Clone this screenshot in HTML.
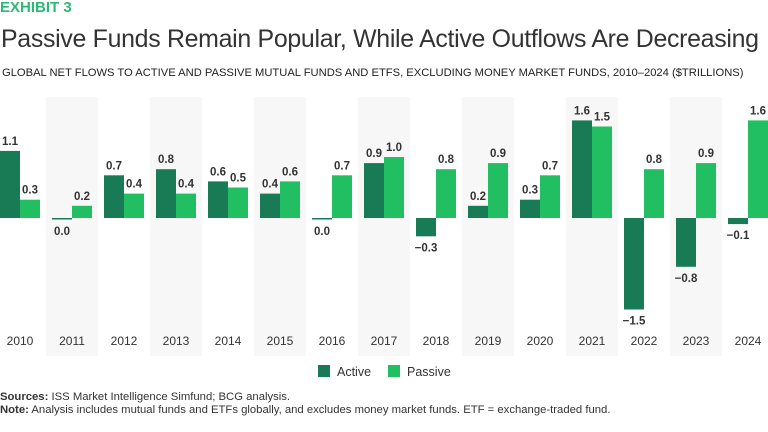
<!DOCTYPE html>
<html><head><meta charset="utf-8"><style>
body{margin:0;width:768px;height:432px;background:#fff;font-family:"Liberation Sans",sans-serif;overflow:hidden;position:relative}
.t{position:absolute;white-space:nowrap}
</style></head><body>
<div class="t" style="left:0;top:-1px;font-size:15px;font-weight:bold;color:#29ba74">EXHIBIT 3</div>
<div class="t" style="left:1px;top:25px;font-size:24.9px;color:#333;letter-spacing:-0.3px">Passive Funds Remain Popular, While Active Outflows Are Decreasing</div>
<div class="t" style="left:2px;top:67px;font-size:11.2px;color:#222">GLOBAL NET FLOWS TO ACTIVE AND PASSIVE MUTUAL FUNDS AND ETFS, EXCLUDING MONEY MARKET FUNDS, 2010–2024 ($TRILLIONS)</div>
<svg id="chart" width="768" height="432" style="position:absolute;left:0;top:0"></svg>
<div class="t" style="left:318px;top:365px;font-size:12.5px;color:#333"><span style="display:inline-block;width:12px;height:12px;background:#197a56;vertical-align:-1px;margin-right:7px"></span>Active</div>
<div class="t" style="left:388px;top:365px;font-size:12.5px;color:#333"><span style="display:inline-block;width:12px;height:12px;background:#21bf61;vertical-align:-1px;margin-right:7px"></span>Passive</div>
<div class="t" style="left:0;top:391px;font-size:11.3px;color:#333"><b>Sources:</b> ISS Market Intelligence Simfund; BCG analysis.</div>
<div class="t" style="left:0;top:404px;font-size:11.3px;color:#333"><b>Note:</b> Analysis includes mutual funds and ETFs globally, and excludes money market funds. ETF = exchange-traded fund.</div>
<script>
const years=["2010","2011","2012","2013","2014","2015","2016","2017","2018","2019","2020","2021","2022","2023","2024"];
const active=[1.1,0.0,0.7,0.8,0.6,0.4,0.0,0.9,-0.3,0.2,0.3,1.6,-1.5,-0.8,-0.1];
const passive=[0.3,0.2,0.4,0.4,0.5,0.6,0.7,1.0,0.8,0.9,0.7,1.5,0.8,0.9,1.6];
const svg=document.getElementById('chart');const NS='http://www.w3.org/2000/svg';
const y0=218,k=61,colW=52,x0=-6;
const yS=v=>y0-v*k; const xC=i=>x0+colW*i+colW/2;
function mk(tag,at){const e=document.createElementNS(NS,tag);for(const a in at)e.setAttribute(a,at[a]);svg.appendChild(e);return e;}
years.forEach((yr,i)=>{
 if(i%2==1){const r=mk('rect',{x:x0+colW*i,y:97,width:colW,height:259,fill:'#f7f7f7'});
 
 }
});
years.forEach((yr,i)=>{
 const c=xC(i);
 [[active[i],c-20,'#197a56','active'],[passive[i],c,'#21bf61','passive']].forEach(([v,x,col,s])=>{
  const top=Math.min(yS(v),y0);let h=Math.abs(yS(v)-y0);if(h<1)h=1.5;
  const b=mk('rect',{x:x,y:top,width:20,height:h,fill:col});
  
  
  const neg=v<0||v===0;
  const ty=neg?(v===0?y0+17:yS(v)+15):yS(v)-6;
  const t=mk('text',{x:x+10,y:ty,'text-anchor':'middle','font-size':'11.5','font-weight':'bold',fill:'#333','font-family':'Liberation Sans'});
  t.textContent=(v<0?'−':'')+Math.abs(v).toFixed(1);
  
  
 });
 const t=mk('text',{x:c,y:345,'text-anchor':'middle','font-size':'12',fill:'#333','font-family':'Liberation Sans'});
 t.textContent=yr;
 
 
});
</script>
</body></html>
